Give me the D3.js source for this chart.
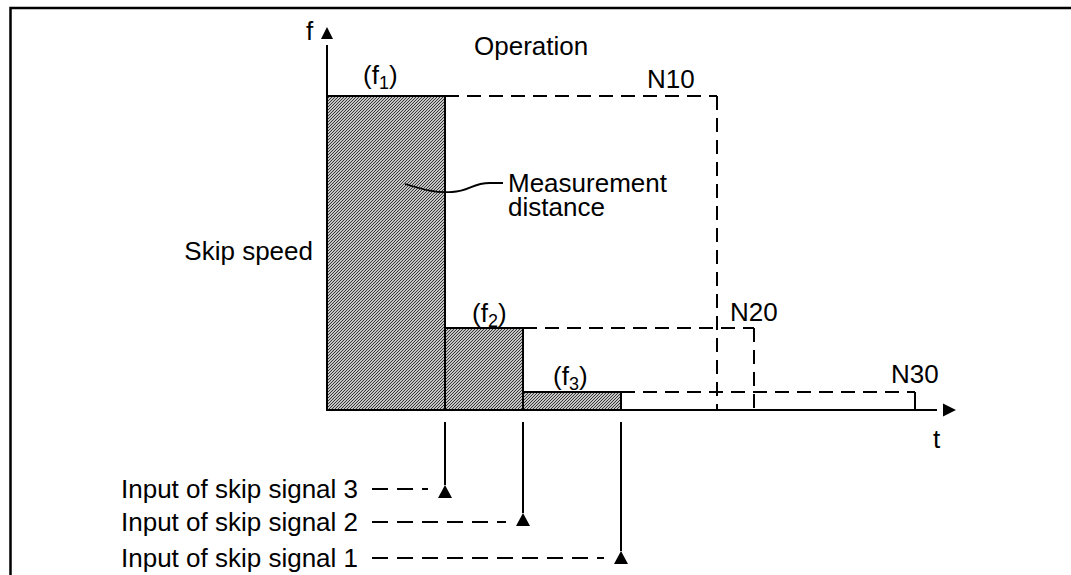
<!DOCTYPE html>
<html><head><meta charset="utf-8">
<script src="https://cdn.jsdelivr.net/npm/d3@7"></script>
<style>
html,body{margin:0;padding:0;background:#fff;}
svg{display:block;}
text{font-family:"Liberation Sans",Arial,sans-serif;fill:#000;}
</style></head>
<body>
<svg id="chart" width="1071" height="575"></svg>
<script>
// ---- data (t in time units, f in speed units) ----
const stepLabels   = ["f1", "f2", "f3"];
const stepStart    = [0, 11.8, 19.6];
const stepEnd      = [11.8, 19.6, 29.4];
const stepSpeed    = [31.4, 8.2, 1.8];
const blockLabels  = ["N10", "N20", "N30"];
const blockEnd     = [39.0, 42.7, 58.8];
const signalLabels = ["Input of skip signal 3", "Input of skip signal 2", "Input of skip signal 1"];
const signalTime   = [11.8, 19.6, 29.4];

const svg = d3.select("#chart");
const x = d3.scaleLinear().domain([0, 62.9]).range([327, 956]);
const y = d3.scaleLinear().domain([0, 38.3]).range([410, 27]);
const FS = 26;

// hatch pattern
const defs = svg.append("defs");
const pat = defs.append("pattern").attr("id","hatch").attr("patternUnits","userSpaceOnUse")
  .attr("width",3).attr("height",3);
pat.append("rect").attr("width",3).attr("height",3).attr("fill","#fff");
pat.append("path").attr("d","M-1,1 L1,-1 M0,3 L3,0 M2,4 L4,2").attr("stroke","#2a2a2a").attr("stroke-width",1.05);

// frame
svg.append("path").attr("d","M10.5,580 L10.5,8 L1080,8").attr("fill","none").attr("stroke","#000").attr("stroke-width",2.5);

// bars
svg.selectAll("rect.step").data(stepSpeed).join("rect").attr("class","step")
  .attr("x",(d,i)=>x(stepStart[i])).attr("y",d=>y(d))
  .attr("width",(d,i)=>x(stepEnd[i])-x(stepStart[i])).attr("height",d=>y(0)-y(d))
  .attr("fill","url(#hatch)").attr("stroke","#000").attr("stroke-width",2);

// dashed operation blocks
const dash = "14,8";
stepSpeed.forEach((f,i)=>{
  svg.append("line").attr("x1",x(stepEnd[i])).attr("x2",x(blockEnd[i])).attr("y1",y(f)).attr("y2",y(f))
    .attr("stroke","#000").attr("stroke-width",2).attr("stroke-dasharray",dash);
  svg.append("line").attr("x1",x(blockEnd[i])).attr("x2",x(blockEnd[i])).attr("y1",y(f)).attr("y2",y(0))
    .attr("stroke","#000").attr("stroke-width",2).attr("stroke-dasharray", i<2 ? dash : null);
});

// axes
svg.append("line").attr("x1",x(0)).attr("x2",x(0)).attr("y1",y(0)).attr("y2",y(36.5)).attr("stroke","#000").attr("stroke-width",2);
svg.append("path").attr("d",`M${x(0)},${y(38.3)} L${x(0)-6},${y(38.3)+12} L${x(0)+6},${y(38.3)+12} Z`).attr("fill","#000");
svg.append("line").attr("x1",x(0)).attr("x2",x(61)).attr("y1",y(0)).attr("y2",y(0)).attr("stroke","#000").attr("stroke-width",2);
svg.append("path").attr("d",`M${x(62.9)},${y(0)} L${x(62.9)-13},${y(0)-6.5} L${x(62.9)-13},${y(0)+6.5} Z`).attr("fill","#000");

// labels
function sub(xp, yp, base, s){
  const t = svg.append("text").attr("x",xp).attr("y",yp).attr("font-size",FS);
  t.append("tspan").text("(" + base);
  t.append("tspan").attr("font-size",18).attr("dy",5).text(s);
  t.append("tspan").attr("dy",-5).text(")");
}
const stepLabelPos = [[363,84],[472,322],[553,385]];
stepLabels.forEach((l,i)=> sub(stepLabelPos[i][0], stepLabelPos[i][1], "f", l.slice(1)));
const blockLabelPos = [[647,88],[730,321],[891,383]];
blockLabels.forEach((l,i)=> svg.append("text").attr("x",blockLabelPos[i][0]).attr("y",blockLabelPos[i][1]).attr("font-size",FS).text(l));

svg.append("text").attr("x",306).attr("y",40).attr("font-size",FS).text("f");
svg.append("text").attr("x",933).attr("y",448).attr("font-size",FS).text("t");
svg.append("text").attr("x",474).attr("y",55).attr("font-size",FS).text("Operation");
svg.append("text").attr("x",313).attr("y",260).attr("font-size",FS).attr("text-anchor","end").text("Skip speed");
svg.append("text").attr("x",508).attr("y",192).attr("font-size",FS).text("Measurement");
svg.append("text").attr("x",508).attr("y",216).attr("font-size",FS).text("distance");
svg.append("path").attr("d","M405,184 C425,190 435,193 452,192 C470,191 472,183 490,183 L503,183")
  .attr("fill","none").attr("stroke","#000").attr("stroke-width",1.8);

// skip signals
const sigBase = [498, 531, 567];
const triTop  = [485, 513, 551];
signalLabels.forEach((l,i)=>{
  svg.append("text").attr("x",121).attr("y",sigBase[i]).attr("font-size",FS).text(l);
  const sx = x(signalTime[i]);
  svg.append("line").attr("x1",sx).attr("x2",sx).attr("y1",422).attr("y2",triTop[i]).attr("stroke","#000").attr("stroke-width",2);
  svg.append("path").attr("d",`M${sx},${triTop[i]} L${sx-7},${triTop[i]+13} L${sx+7},${triTop[i]+13} Z`).attr("fill","#000");
  svg.append("line").attr("x1",372).attr("x2",sx-17).attr("y1",sigBase[i]-9).attr("y2",sigBase[i]-9)
    .attr("stroke","#000").attr("stroke-width",2).attr("stroke-dasharray","16,9");
});
</script>
</body></html>
